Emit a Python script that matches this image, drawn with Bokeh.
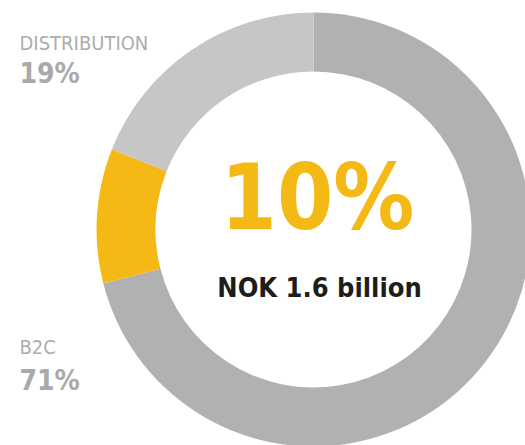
import numpy as np
from bokeh.plotting import figure
from bokeh.models import ColumnDataSource, Range1d
from bokeh.core.properties import value
from bokeh.embed import file_html
from bokeh.resources import INLINE

categories = ["B2C", "Highlighted", "Distribution"]
shares = [71, 10, 19]
colors = ["#b1b1b1", "#f5b915", "#c6c6c5"]
label_names = ["DISTRIBUTION", "B2C"]
label_values = ["19%", "71%"]
center_value = "10%"
center_sub = "NOK 1.6 billion"

W, H = 525, 445
p = figure(width=W, height=H, output_backend="svg", toolbar_location=None,
           x_range=Range1d(0, W), y_range=Range1d(0, H), min_border=0)
p.axis.visible = False
p.grid.visible = False
p.outline_line_color = None
p.background_fill_color = "white"

cx, cy = 313, 216
frac = np.array(shares, dtype=float) / sum(shares)
cum = np.concatenate([[0], np.cumsum(frac)])
ends = np.pi / 2 - cum[:-1] * 2 * np.pi
starts = np.pi / 2 - cum[1:] * 2 * np.pi
src = ColumnDataSource(dict(x=[cx] * 3, y=[cy] * 3, start=starts, end=ends, color=colors, cat=categories))
p.annular_wedge(x="x", y="y", inner_radius=158, outer_radius=217, start_angle="start", end_angle="end",
                fill_color="color", line_color=None, source=src)

font = value("DejaVu Sans Condensed")
p.text(x=[19, 19], y=[403, 99], text=label_names, text_font=font, text_font_size="20px",
       text_color="#acacac", text_baseline="alphabetic")
p.text(x=[19, 19], y=[372, 65], text=label_values, text_font=font, text_font_size="28px",
       text_font_style="bold", text_color="#a9a9a9", text_baseline="alphabetic")
p.text(x=[317], y=[248], text=[center_value], text_font=font, text_font_size="90px",
       text_font_style="bold", text_color="#f5b915", text_align="center", text_baseline="alphabetic")
p.text(x=[319], y=[158], text=[center_sub], text_font=font, text_font_size="27px",
       text_font_style="bold", text_color="#1d1d1b", text_align="center", text_baseline="alphabetic")

open("out.html", "w").write(file_html(p, INLINE))
